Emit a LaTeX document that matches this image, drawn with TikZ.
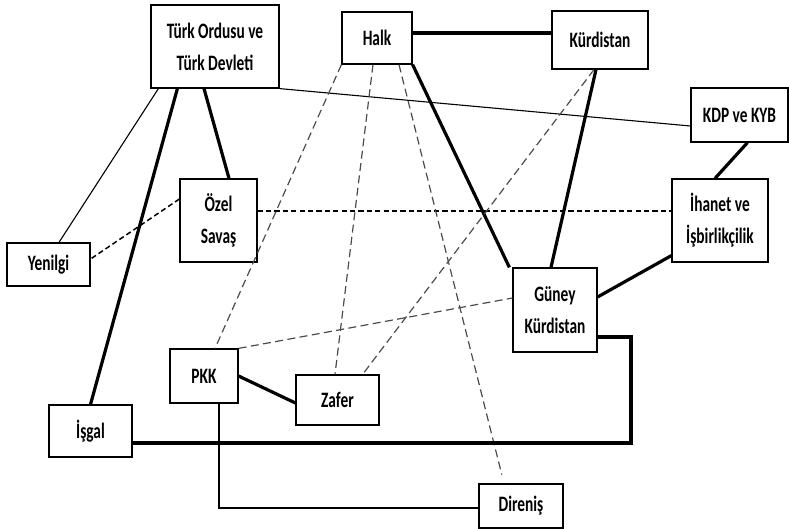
\documentclass[tikz,border=0pt]{standalone}
\usepackage{fontspec}
\setmainfont{Carlito}[FakeStretch=0.7]
\usepackage{tikz}

\begin{document}
\begin{tikzpicture}[x=0.5pt, y=-0.5pt,
    box/.style={draw, line width=0.6pt, inner sep=0pt, align=center,
      font=\fontsize{11}{16}\selectfont\bfseries},
    weak/.style={line width=0.55pt},
    strong/.style={line width=1.6pt},
    heavy/.style={line width=2.1pt},
    dashgrey/.style={line width=0.6pt, black!70, dash pattern=on 4pt off 2.2pt},
    dashblack/.style={line width=0.75pt, dash pattern=on 2.6pt off 1.6pt}]
  \useasboundingbox (0,0) rectangle (789,529);

  \node[box, minimum width=64pt, minimum height=41.5pt] (tod) at (215,46.5) {Türk Ordusu ve\\Türk Devleti};
  \node[box, minimum width=35pt, minimum height=26pt] (halk) at (377,38) {Halk};
  \node[box, minimum width=48pt, minimum height=29pt] (kurd) at (600,40) {Kürdistan};
  \node[box, minimum width=48.5pt, minimum height=27pt] (kdp) at (739.5,115) {KDP ve KYB};
  \node[box, minimum width=38.5pt, minimum height=41.5pt] (ozel) at (218.5,220.5) {Özel\\Savaş};
  \node[box, minimum width=48pt, minimum height=41.5pt] (ihanet) at (720,220.5) {İhanet ve\\İşbirlikçilik};
  \node[box, minimum width=41.5pt, minimum height=21.5pt] (yenilgi) at (48.5,264.5) {Yenilgi};
  \node[box, minimum width=42pt, minimum height=42pt] (guney) at (555,310) {Güney\\Kürdistan};
  \node[box, minimum width=34pt, minimum height=27pt] (pkk) at (204,376) {PKK};
  \node[box, minimum width=41.5pt, minimum height=25pt] (zafer) at (337.5,400) {Zafer};
  \node[box, minimum width=41.5pt, minimum height=26pt] (isgal) at (90.5,431) {İşgal};
  \node[box, minimum width=42pt, minimum height=22pt] (direnis) at (521,506) {Direniş};
  \coordinate (turn) at (631,337);

  \draw[weak] ([xshift=4pt]tod.south west) -- ([xshift=5.25pt]yenilgi.north);
  \draw[strong] ([xshift=13.5pt]tod.south west) -- (isgal.north);
  \draw[strong] ([xshift=-5.5pt]tod.south) -- ([xshift=5.25pt]ozel.north);
  \draw[weak] (tod.south east) -- ([yshift=-5.5pt]kdp.west);
  \draw[heavy] ([yshift=2.5pt]halk.east) -- ([yshift=3.5pt]kurd.west);
  \draw[strong] (halk.south east) -- ([xshift=-1.5pt]guney.north west);
  \draw[strong] ([xshift=-2pt]kurd.south) -- ([xshift=-2pt]guney.north);
  \draw[strong] ([xshift=4pt]kdp.south) -- ([xshift=-2.5pt]ihanet.north);
  \draw[strong] ([yshift=3.5pt]ihanet.south west) -- ([yshift=6.5pt]guney.east);
  \draw[dashblack] ([yshift=4.75pt]ozel.east) -- ([yshift=4.75pt]ihanet.west);
  \draw[dashblack] ([yshift=10.75pt]ozel.west) -- ([yshift=2.75pt]yenilgi.east);
  \draw[dashgrey] (halk.south west) -- ([xshift=5.5pt]pkk.north);
  \draw[dashgrey] ([xshift=-2pt]halk.south) -- ([xshift=-1.25pt]zafer.north);
  \draw[dashgrey, shorten >=4.5pt] ([xshift=11pt]halk.south) -- ([xshift=-8.5pt]direnis.north);
  \draw[dashgrey] ([xshift=-3pt]kurd.south) -- ([xshift=-8.5pt]zafer.north east);
  \draw[dashgrey] (pkk.north east) -- ([yshift=6pt]guney.west);
  \draw[strong] (pkk.east) -- ([yshift=-1.5pt]zafer.west);
  \draw[weak] ([xshift=7.5pt]pkk.south) |- ([yshift=-1pt]direnis.west);
  \draw[strong] ([yshift=-6pt]isgal.east) -| (turn) -- ([yshift=-13.5pt]guney.east);
\end{tikzpicture}
\end{document}
